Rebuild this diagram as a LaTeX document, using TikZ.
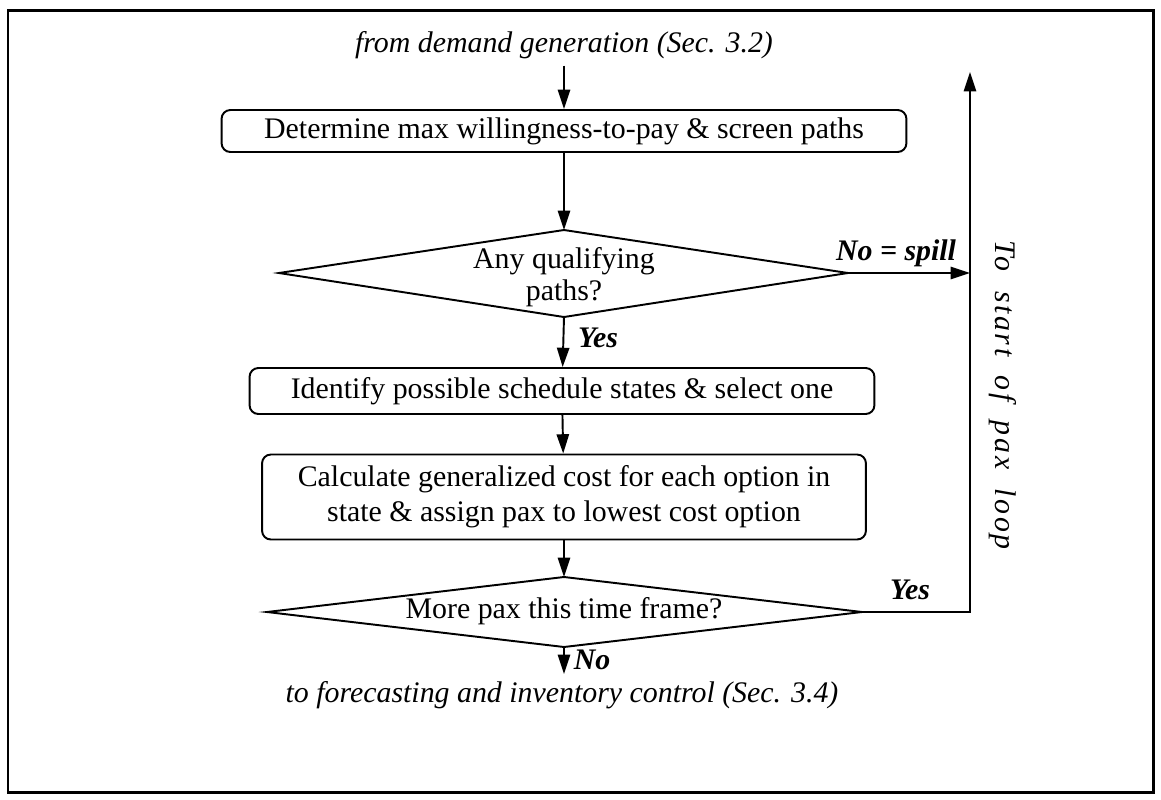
\documentclass[tikz,border=0pt]{standalone}
\usepackage{fontspec}
\setmainfont{Liberation Serif}
\usetikzlibrary{arrows.meta}

\begin{document}
\begin{tikzpicture}[x=0.02cm,y=-0.02cm,
  font=\fontsize{17}{20}\selectfont,line width=1.1pt,
  flow/.style={-{Triangle[length=11pt,width=7pt]}},
  stepbox/.style={draw,rounded corners=5pt,align=center,inner sep=0pt},
  lbl/.style={font=\fontsize{17}{20}\selectfont\itshape},
  blbl/.style={font=\fontsize{17}{20}\selectfont\bfseries\itshape}]
\useasboundingbox (0,0) rectangle (1161,799);
\draw[line width=1.7pt] (8,10) rectangle (1153,792);
\node[lbl] (src) at (564,45) {from demand generation (Sec. 3.2)};
\node[stepbox,minimum width=13.7cm,minimum height=0.84cm] (screen) at (564,131) {Determine max willingness-to-pay \& screen paths};
% first test
\coordinate (qualify n) at (564,230);
\coordinate (qualify e) at (848,273);
\coordinate (qualify s) at (564,317);
\coordinate (qualify w) at (279,273);
\draw (qualify n) -- (qualify e) -- (qualify s) -- (qualify w) -- cycle;
\node[align=center,font=\fontsize{17}{18}\selectfont] (qualify) at (564,277) {Any qualifying\\paths?};
\node[stepbox,minimum width=12.5cm,minimum height=0.92cm] (state) at (562,391) {Identify possible schedule states \& select one};
\node[stepbox,minimum width=12.08cm,minimum height=1.7cm] (cost) at (564,497) {Calculate generalized cost for each option in\\state \& assign pax to lowest cost option};
% second test
\coordinate (more n) at (564,577);
\coordinate (more e) at (862,612);
\coordinate (more s) at (564,647);
\coordinate (more w) at (267,612);
\draw (more n) -- (more e) -- (more s) -- (more w) -- cycle;
\node (more) at (564,611) {More pax this time frame?};
\coordinate (stop) at (564,674);
\node[lbl] (sink) at (562,695) {to forecasting and inventory control (Sec. 3.4)};
\coordinate (top) at (970,72);
\coordinate (join) at (970,273);
\draw[flow] (src) -- (screen);
\draw[flow] (screen) -- (qualify n);
\draw[flow] (qualify s) -- (state);
\draw[flow] (state) -- (cost);
\draw[flow] (cost) -- (more n);
\draw[flow] (more s) -- (stop);
\draw[flow] (qualify e) -- (join);
\draw[flow] (more e) -| (top);
\node[blbl] (spill) at (896,253) {No = spill};
\node[blbl] (yes1) at (598,338) {Yes};
\node[blbl] (yes2) at (910,590) {Yes};
\node[blbl] (no2) at (592,660) {No};
\node[lbl,rotate=-90] (back) at (1003,395) {\addfontfeature{LetterSpace=9}To\hspace{0.18cm} start\hspace{0.18cm} of\hspace{0.18cm} pax\hspace{0.18cm} loop};
\end{tikzpicture}
\end{document}
